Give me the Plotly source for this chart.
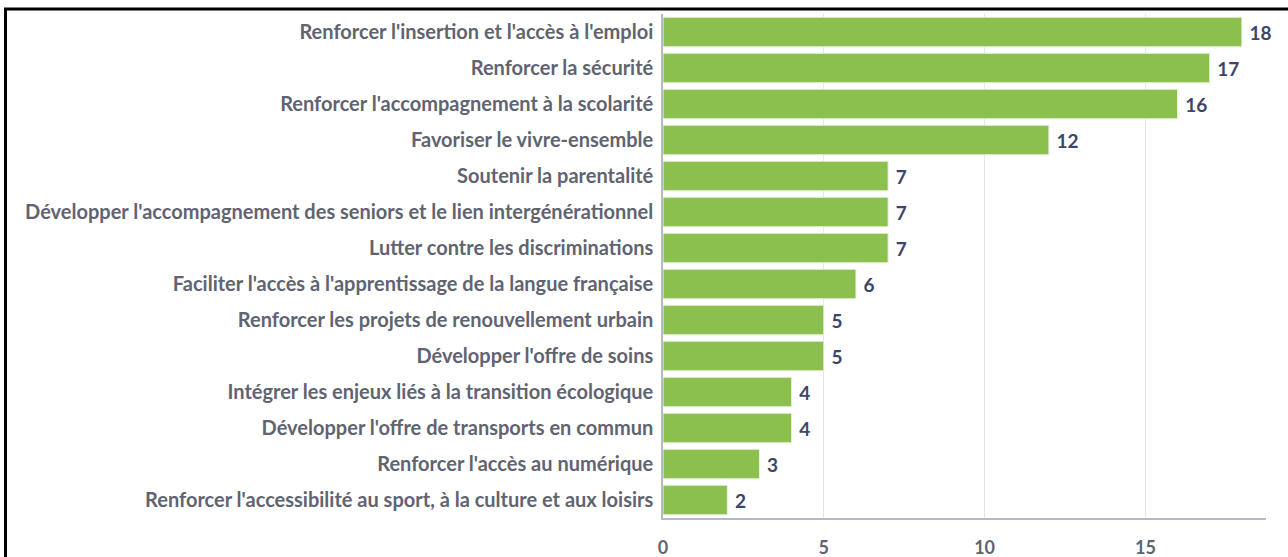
import plotly.graph_objects as go

categories = [
    "Renforcer l'insertion et l'accès à l'emploi",
    "Renforcer la sécurité",
    "Renforcer l'accompagnement à la scolarité",
    "Favoriser le vivre-ensemble",
    "Soutenir la parentalité",
    "Développer l'accompagnement des seniors et le lien intergénérationnel",
    "Lutter contre les discriminations",
    "Faciliter l'accès à l'apprentissage de la langue française",
    "Renforcer les projets de renouvellement urbain",
    "Développer l'offre de soins",
    "Intégrer les enjeux liés à la transition écologique",
    "Développer l'offre de transports en commun",
    "Renforcer l'accès au numérique",
    "Renforcer l'accessibilité au sport, à la culture et aux loisirs",
]
values = [18, 17, 16, 12, 7, 7, 7, 6, 5, 5, 4, 4, 3, 2]
x_ticks = [0, 5, 10, 15]

W, H = 1288, 557
L, R, T, B = 663, 22, 14, 39
pw, ph = W - L - R, H - T - B

def px(x):
    return (x - L) / pw

def py(y):
    return (H - B - y) / ph

fig = go.Figure(go.Bar(
    x=values, y=categories, orientation="h",
    marker=dict(color="#8bc04f", line=dict(color="#e8f3dc", width=1)),
    text=[" " + str(v) for v in values], textposition="outside",
    textfont=dict(family="Lato", size=19, color="#3c4668", weight=700),
    cliponaxis=False, width=0.82,
))

fig.update_layout(
    width=W, height=H,
    margin=dict(l=L, r=R, t=T, b=B, pad=0, autoexpand=False),
    paper_bgcolor="white", plot_bgcolor="white",
    showlegend=False,
    xaxis=dict(range=[0, 18.75], tickvals=x_ticks, showgrid=True,
               gridcolor="#e6e6e6", gridwidth=1, zeroline=False,
               showline=True, linecolor="#b4b9c4", linewidth=2,
               ticks="", ticklabelstandoff=12, automargin=False,
               tickfont=dict(family="Lato", size=18, color="#5f6470", weight=700)),
    yaxis=dict(autorange="reversed", showgrid=False, showline=True,
               linecolor="#b4b9c4", linewidth=1.5, ticks="",
               ticklabelstandoff=4, automargin=False,
               tickfont=dict(family="Lato", size=20, color="#5f6470", weight=700)),
    shapes=[
        dict(type="line", xref="paper", yref="paper", x0=px(4), x1=px(1290), y0=py(9), y1=py(9),
             line=dict(color="black", width=3)),
        dict(type="line", xref="paper", yref="paper", x0=px(5.5), x1=px(5.5), y0=py(9), y1=py(560),
             line=dict(color="black", width=3)),
    ],
    bargap=0.18,
)

fig.write_html("out.html", config={"displayModeBar": False},
               post_script="document.body.style.margin='0px';")
